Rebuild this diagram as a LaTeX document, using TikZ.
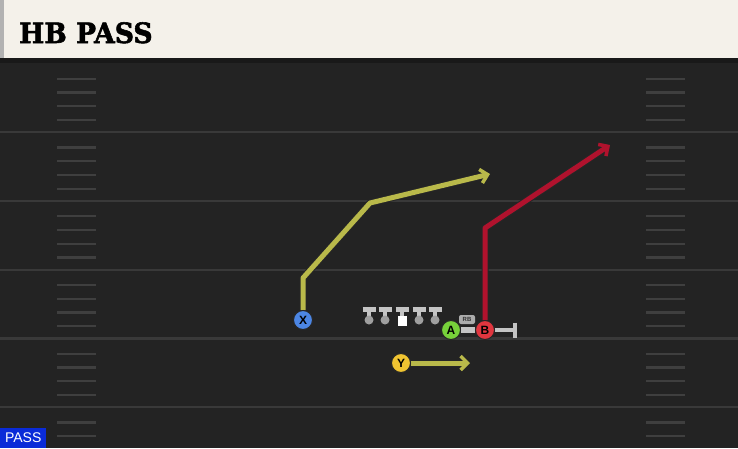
\documentclass[tikz,border=0pt]{standalone}
\usepackage{fontspec}
\setmainfont{Liberation Sans}
\newfontfamily\titlefont{DejaVu Serif}[UprightFont={* Bold}, FakeBold=2]
\usetikzlibrary{arrows.meta, backgrounds, positioning}

\definecolor{turf}{HTML}{232323}
\definecolor{yardgrey}{HTML}{393939}
\definecolor{hashgrey}{HTML}{3F3F3F}
\definecolor{cream}{HTML}{F4F1EA}
\definecolor{routeyellow}{HTML}{B9B94A}
\definecolor{routered}{HTML}{B0122D}
\definecolor{blockgrey}{HTML}{C4C4C4}
\definecolor{xblue}{HTML}{4C86E4}
\definecolor{agreen}{HTML}{77D13A}
\definecolor{bred}{HTML}{E0363F}
\definecolor{yyellow}{HTML}{F0C431}
\definecolor{tagblue}{HTML}{0A2BD8}

\begin{document}
\begin{tikzpicture}
    [
        x=1pt, y=-1pt,
        yardline/.style={draw=yardgrey, line width=2.2pt},
        hashmark/.style={draw=hashgrey, line width=2.2pt},
        player/.style={circle, draw=black!85, line width=1pt, minimum size=19pt, inner sep=0pt, font=\bfseries\fontsize{12}{12}\selectfont},
        route/.style={line width=5pt, line join=round, -{Straight Barb[length=7pt, width=14pt, line width=3.5pt]}, preaction={draw=black!85, line width=7pt}},
        block/.style={draw=blockgrey, line width=4.5pt, -{Bar[width=15pt, line width=4pt]}},
        lineman/.style={draw=blockgrey, line width=5pt},
    ]
    \useasboundingbox (0,0) rectangle (738,448);

    % players
    \node[player, fill=xblue] (X) at (303,320) {X};
    \node[player, fill=agreen] (A) at (451,330) {A};
    \node[player, fill=bred] (B) at (485,330) {B};
    \node[player, fill=yyellow] (Y) at (401,363) {Y};

    % route points
    \coordinate (xstem) at (303,278);
    \coordinate (xbreak) at (370,203);
    \coordinate (xend) at (490,174);
    \coordinate (bstem) at (485,228);
    \coordinate (bend) at (610,145);
    \coordinate (yend) at (470,363);
    \coordinate (bblock) at (517,330);

    \begin{scope}[on background layer]
        \fill[turf] (0,0) rectangle (738,448);
        \foreach \yy in {132.25,201,269.75,338.5,407.25}
            \draw[yardline] (0,\yy) -- (738,\yy);
        \foreach \n in {1,...,27}{
            \pgfmathtruncatemacro{\m}{mod(\n,5)}
            \ifnum\m>0
                \draw[hashmark] (57,65+13.75*\n) -- (96,65+13.75*\n);
                \draw[hashmark] (646,65+13.75*\n) -- (685,65+13.75*\n);
            \fi
        }
        % routes
        \draw[route, routeyellow] (X) -- (xstem) -- (xbreak) -- (xend);
        \draw[route, routered] (B) -- (bstem) -- (bend);
        \draw[route, routeyellow] (Y) -- (yend);
        \draw[block] (B) -- (bblock);
        \draw[blockgrey, line width=5.5pt] (A) -- (B);
    \end{scope}

    % header
    \fill[black!90] (0,57) rectangle (738,63);
    \fill[cream] (4,0) rectangle (738,58);
    \fill[gray!60] (0,0) rectangle (4,58);
    \node[anchor=base west, inner sep=0pt, font=\titlefont\fontsize{28}{28}\selectfont, xscale=0.95] (title) at (19,43) {HB PASS};

    % offensive line
    \foreach \px in {369,385,419,435}{
        \draw[lineman] (\px-6.5,309) -- (\px+6.5,309);
        \draw[lineman, line width=4.5pt] (\px,308) -- (\px,318);
        \fill[gray!75] (\px,320) circle (4.5pt);
    }
    \draw[lineman] (395.5,309) -- (408.5,309);
    \draw[lineman, line width=4.5pt] (402,308) -- (402,316);
    \fill[white] (397.5,315.5) rectangle (406.5,325.5);

    % back tag
    \node[fill=gray!65, rounded corners=2pt, inner sep=1pt, minimum width=16pt, minimum height=9pt, font=\bfseries\fontsize{6}{6}\selectfont, text=black!80] (rbtag) at (467,319.5) {RB};

    % play type
    \node[anchor=south west, fill=tagblue, text=white, inner sep=0pt, minimum width=46pt, minimum height=20pt, font=\fontsize{14}{14}\selectfont] (kind) at (0,448) {PASS};
\end{tikzpicture}
\end{document}
